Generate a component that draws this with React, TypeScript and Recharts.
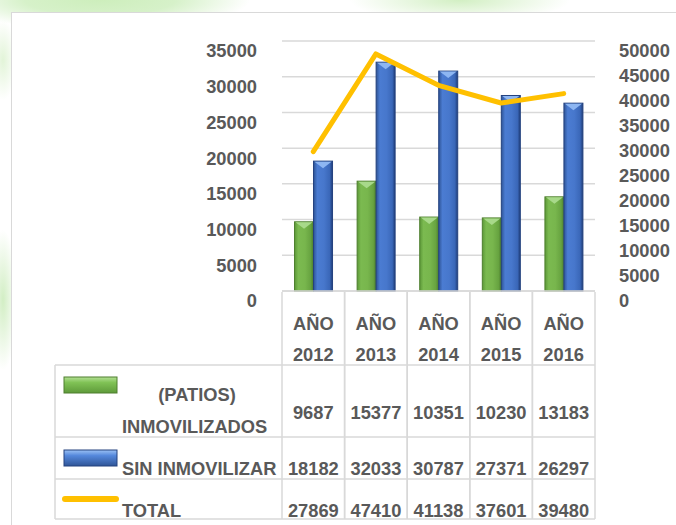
import React from 'react';
import { ComposedChart, Bar, Line, XAxis, YAxis, CartesianGrid } from 'recharts';

const categories = ['AÑO 2012', 'AÑO 2013', 'AÑO 2014', 'AÑO 2015', 'AÑO 2016'];
const patiosInmovilizados = [9687, 15377, 10351, 10230, 13183];
const sinInmovilizar = [18182, 32033, 30787, 27371, 26297];
const total = [27869, 47410, 41138, 37601, 39480];
const leftTicks = [0, 5000, 10000, 15000, 20000, 25000, 30000, 35000];
const rightTicks = [0, 5000, 10000, 15000, 20000, 25000, 30000, 35000, 40000, 45000, 50000];
const seriesNames = ['(PATIOS) INMOVILIZADOS', 'SIN INMOVILIZAR', 'TOTAL'];

const data = categories.map((c, i) => ({
  name: c,
  patios: patiosInmovilizados[i],
  sin: sinInmovilizar[i],
  total: total[i],
}));

const W = 676;
const H = 525;
const PLOT_LEFT = 282;
const PLOT_RIGHT = 595;
const PLOT_TOP = 41;
const PLOT_BOTTOM = 291;
const BAND = (PLOT_RIGHT - PLOT_LEFT) / categories.length;
const FONT = '"Liberation Sans", Arial, sans-serif';
const TXT = '#595959';
const GRID = '#D9D9D9';
const FS = 18.3;

const ROW_LINES = [365, 437, 479, 519];
const TABLE_LEFT = 55;

const makeBar = (gradId: string, light: string, dark: string) => (props: any) => {
  const { x, y, width, height } = props;
  if (!height || height <= 0) return null;
  const tri = Math.min(7, height);
  return (
    <g>
      <rect x={x} y={y} width={width} height={height} fill={`url(#${gradId})`} stroke={dark} strokeWidth={1} />
      <polygon
        points={`${x + 1},${y + 0.5} ${x + width - 1},${y + 0.5} ${x + width / 2},${y + tri}`}
        fill={light}
      />
    </g>
  );
};

const GreenBar = makeBar('gGreen', '#A8D98A', '#4E7F2E');
const BlueBar = makeBar('gBlue', '#8DB6F2', '#24427F');

const LeftTick = (props: any) => {
  const { x, y, payload } = props;
  return (
    <text x={x} y={y + 10} dy="0.355em" textAnchor="end" fill={TXT} fontSize={FS} fontWeight="bold" fontFamily={FONT}>
      {payload.value}
    </text>
  );
};

const RightTick = (props: any) => {
  const { x, y, payload } = props;
  return (
    <text x={x} y={y + 10} dy="0.355em" textAnchor="start" fill={TXT} fontSize={FS} fontWeight="bold" fontFamily={FONT}>
      {payload.value}
    </text>
  );
};

const txt = (x: number, y: number, s: string | number, anchor: 'start' | 'middle' | 'end' = 'middle') => (
  <text x={x} y={y} textAnchor={anchor} fill={TXT} fontSize={FS} fontWeight="bold" fontFamily={FONT}>
    {s}
  </text>
);

const TableTick = (props: any) => {
  const { x, payload, index } = props;
  const i = index ?? categories.indexOf(payload.value);
  const [w1, w2] = String(payload.value).split(' ');
  const l = x - BAND / 2;
  const r = x + BAND / 2;
  return (
    <g>
      <line x1={l} y1={PLOT_BOTTOM + 1} x2={l} y2={ROW_LINES[3]} stroke={GRID} strokeWidth={1.5} />
      <line x1={r} y1={PLOT_BOTTOM + 1} x2={r} y2={ROW_LINES[3]} stroke={GRID} strokeWidth={1.5} />
      {txt(x, 330, w1)}
      {txt(x, 361, w2)}
      {txt(x, 419, patiosInmovilizados[i])}
      {txt(x, 475, sinInmovilizar[i])}
      {txt(x, 517, total[i])}
      {i === 0 && (
        <g>
          {ROW_LINES.map((yy) => (
            <line key={yy} x1={TABLE_LEFT} y1={yy} x2={PLOT_RIGHT} y2={yy} stroke={GRID} strokeWidth={1.5} />
          ))}
          <line x1={TABLE_LEFT} y1={ROW_LINES[0]} x2={TABLE_LEFT} y2={ROW_LINES[3]} stroke={GRID} strokeWidth={1.5} />
          <rect x={64} y={377} width={53} height={16} fill="url(#gGreenKey)" stroke="#4E7F2E" strokeWidth={1} />
          <rect x={64} y={450} width={53} height={16} fill="url(#gBlueKey)" stroke="#24427F" strokeWidth={1} />
          <line x1={65} y1={499} x2={116} y2={499} stroke="#FFC000" strokeWidth={6} strokeLinecap="round" />
          {txt(197, 401, seriesNames[0].split(' ')[0])}
          {txt(122, 433, seriesNames[0].split(' ')[1], 'start')}
          {txt(122, 475, seriesNames[1], 'start')}
          {txt(122, 517, seriesNames[2], 'start')}
        </g>
      )}
    </g>
  );
};

export default function App() {
  return (
    <div
      style={{
        position: 'absolute',
        left: 0,
        top: 0,
        width: W,
        height: H,
        overflow: 'hidden',
        background:
          'radial-gradient(ellipse 150px 30px at 100px 0px, #cdeebc 0%, #d6f1c9 50%, rgba(214,241,201,0) 100%), radial-gradient(ellipse 110px 22px at 460px 0px, #d2efc3 0%, rgba(210,239,195,0) 100%), radial-gradient(ellipse 14px 70px at 3px 300px, #d2eec4 0%, rgba(210,238,196,0) 100%), radial-gradient(ellipse 14px 40px at 3px 60px, #e2f4d8 0%, rgba(226,244,216,0) 100%), #ffffff',
      }}
    >
      <div
        style={{
          position: 'absolute',
          left: 11,
          top: 12,
          width: W,
          height: H,
          border: `1.5px solid ${GRID}`,
          background: '#ffffff',
          boxSizing: 'border-box',
        }}
      />
      <div style={{ position: 'absolute', left: 0, top: 0 }}>
        <ComposedChart
          width={W}
          height={H}
          data={data}
          margin={{ top: PLOT_TOP, right: 0, bottom: 0, left: 0 }}
          barCategoryGap="20%"
          barGap={0}
        >
          <defs>
            <linearGradient id="gGreen" x1="0" y1="0" x2="1" y2="0">
              <stop offset="0" stopColor="#5C9838" />
              <stop offset="0.2" stopColor="#7BBA50" />
              <stop offset="0.55" stopColor="#78B64D" />
              <stop offset="0.85" stopColor="#67A340" />
              <stop offset="1" stopColor="#4B7C2C" />
            </linearGradient>
            <linearGradient id="gBlue" x1="0" y1="0" x2="1" y2="0">
              <stop offset="0" stopColor="#2E5496" />
              <stop offset="0.2" stopColor="#4B7CD2" />
              <stop offset="0.55" stopColor="#4777CC" />
              <stop offset="0.85" stopColor="#3A67B8" />
              <stop offset="1" stopColor="#1F3C78" />
            </linearGradient>
            <linearGradient id="gGreenKey" x1="0" y1="0" x2="0" y2="1">
              <stop offset="0" stopColor="#B3E095" />
              <stop offset="0.35" stopColor="#80C255" />
              <stop offset="1" stopColor="#5E9A3A" />
            </linearGradient>
            <linearGradient id="gBlueKey" x1="0" y1="0" x2="0" y2="1">
              <stop offset="0" stopColor="#9CC2F5" />
              <stop offset="0.35" stopColor="#5588DC" />
              <stop offset="1" stopColor="#2F5597" />
            </linearGradient>
          </defs>
          <CartesianGrid yAxisId="left" vertical={false} stroke={GRID} strokeWidth={1.5} />
          <XAxis
            dataKey="name"
            height={H - PLOT_BOTTOM}
            interval={0}
            axisLine={{ stroke: GRID, strokeWidth: 1.5 }}
            tickLine={false}
            tick={<TableTick />}
          />
          <YAxis
            yAxisId="left"
            orientation="left"
            width={PLOT_LEFT}
            domain={[0, 35000]}
            ticks={leftTicks}
            axisLine={false}
            tickLine={false}
            tickSize={0}
            tickMargin={25}
            tick={<LeftTick />}
          />
          <YAxis
            yAxisId="right"
            orientation="right"
            width={W - PLOT_RIGHT}
            domain={[0, 50000]}
            ticks={rightTicks}
            axisLine={false}
            tickLine={false}
            tickSize={0}
            tickMargin={24}
            tick={<RightTick />}
          />
          <Bar yAxisId="left" dataKey="patios" name={seriesNames[0]} fill="#70AD47" shape={GreenBar} isAnimationActive={false} />
          <Bar yAxisId="left" dataKey="sin" name={seriesNames[1]} fill="#4472C4" shape={BlueBar} isAnimationActive={false} />
          <Line
            yAxisId="right"
            type="linear"
            dataKey="total"
            name={seriesNames[2]}
            stroke="#FFC000"
            strokeWidth={5}
            strokeLinecap="round"
            strokeLinejoin="round"
            dot={false}
            activeDot={false}
            isAnimationActive={false}
          />
        </ComposedChart>
      </div>
    </div>
  );
}
